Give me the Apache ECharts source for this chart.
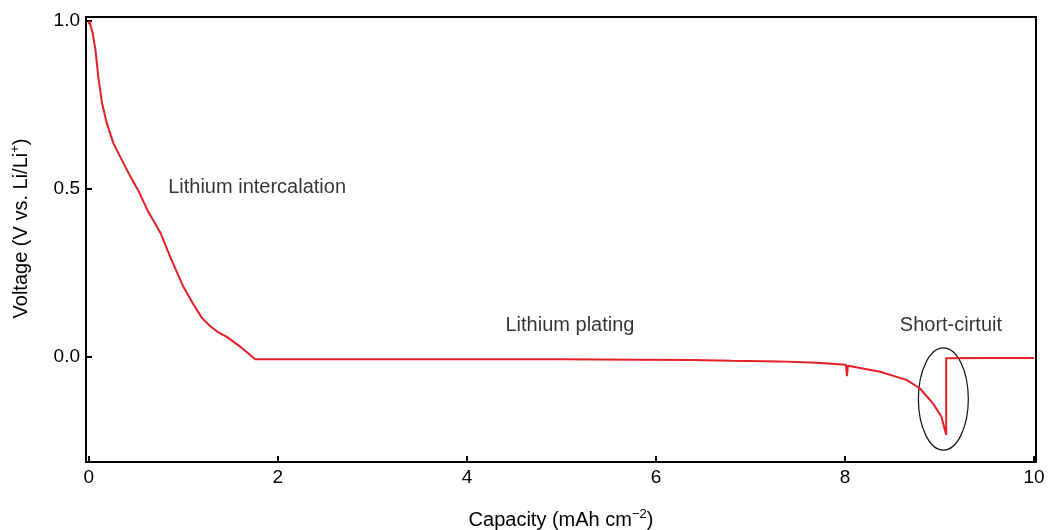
<!DOCTYPE html>
<html>
<head>
<meta charset="utf-8">
<script src="https://cdn.jsdelivr.net/npm/echarts@6/dist/echarts.min.js"></script>
<style>
  html, body { margin: 0; padding: 0; background: #fff; }
  #main { width: 1048px; height: 530px; }
</style>
</head>
<body>
<div id="main"></div>
<script>
// capacity (mAh cm-2) / voltage (V)
const capacity = [0.0, 0.005, 0.04, 0.07, 0.10, 0.14, 0.19, 0.26, 0.35, 0.44, 0.53, 0.62, 0.76, 0.86, 1.00, 1.11, 1.20, 1.28, 1.36, 1.46, 1.60, 1.76,
  2.0, 3.0, 4.0, 5.0, 5.8, 6.4, 6.8, 7.3, 7.7, 8.01, 8.02, 8.02, 8.03, 8.37, 8.65, 8.79, 8.93, 9.02, 9.07, 9.07, 9.5, 10.0];
const voltage = [0.99, 1.0, 0.965, 0.914, 0.834, 0.755, 0.696, 0.636, 0.586, 0.537, 0.492, 0.437, 0.368, 0.299, 0.209, 0.155, 0.115, 0.093, 0.075, 0.060, 0.031, -0.007,
  -0.007, -0.007, -0.007, -0.007, -0.008, -0.009, -0.011, -0.013, -0.017, -0.023, -0.024, -0.057, -0.026, -0.044, -0.068, -0.093, -0.138, -0.178, -0.232, -0.004, -0.003, -0.003];

const xTicks = [0, 2, 4, 6, 8, 10];
const yTicks = [0.0, 0.5, 1.0];

// labels: [x, y, text]
const notas = [
  [1.78, 0.506, 'Lithium intercalation'],
  [5.09, 0.095, 'Lithium plating'],
  [9.12, 0.095, 'Short-cirtuit']
];

// ellipse around the short circuit: [cx, cy, rx (capacity), ry (voltage)]
const elipse = [[9.04, -0.125, 0.264, 0.152]];

const fuente = 'Liberation Sans, Arial, Helvetica, sans-serif';

const chartDom = document.getElementById('main');
const myChart = echarts.init(chartDom);

const option = {
  animation: false,
  backgroundColor: '#fff',
  textStyle: { fontFamily: fuente },
  grid: {
    left: 86, right: 12, top: 17, bottom: 68,
    outerBoundsMode: 'none',
    show: true, borderColor: '#000', borderWidth: 2, backgroundColor: 'transparent'
  },
  xAxis: {
    type: 'value',
    min: -0.03,
    max: 10.02,
    name: '{a|Capacity (mAh cm}{s|−2}{a|)}',
    nameLocation: 'middle',
    nameGap: 46,
    nameTextStyle: {
      rich: {
        a: { fontSize: 20, color: '#000', fontFamily: fuente },
        s: { fontSize: 13, color: '#000', fontFamily: fuente, padding: [0, 0, 12, 0] }
      }
    },
    axisLine: { onZero: false, lineStyle: { color: '#000', width: 2 } },
    axisTick: { inside: true, length: 6, customValues: xTicks, lineStyle: { color: '#000', width: 2 } },
    axisLabel: {
      fontSize: 19, color: '#000', margin: 6,
      customValues: xTicks,
      formatter: v => String(v)
    },
    splitLine: { show: false }
  },
  yAxis: {
    type: 'value',
    min: -0.3125,
    max: 1.012,
    name: '{a|Voltage (V vs. Li/Li}{s|+}{a|)}',
    nameLocation: 'middle',
    nameGap: 52,
    nameRotate: 90,
    nameTextStyle: {
      padding: [0, 0, 0, 22],
      rich: {
        a: { fontSize: 20, color: '#000', fontFamily: fuente },
        s: { fontSize: 13, color: '#000', fontFamily: fuente, padding: [0, 0, 12, 0] }
      }
    },
    axisLine: { onZero: false, lineStyle: { color: '#000', width: 2 } },
    axisTick: { inside: true, length: 6, customValues: yTicks, lineStyle: { color: '#000', width: 2 } },
    axisLabel: {
      fontSize: 19, color: '#000', margin: 6,
      customValues: yTicks,
      formatter: v => v.toFixed(1)
    },
    splitLine: { show: false }
  },
  series: [
    {
      type: 'line',
      data: capacity.map((c, i) => [c, voltage[i]]),
      showSymbol: false,
      lineStyle: { color: '#e41f26', width: 2 },
      z: 3
    },
    {
      type: 'custom',
      data: elipse,
      renderItem: function (params, api) {
        const c = api.coord([api.value(0), api.value(1)]);
        const s = api.size([api.value(2), api.value(3)]);
        return {
          type: 'ellipse',
          shape: { cx: c[0], cy: c[1], rx: s[0], ry: s[1] },
          style: { fill: 'none', stroke: '#111', lineWidth: 1.2 }
        };
      },
      z: 2
    },
    {
      type: 'scatter',
      data: notas.map(n => ({ value: [n[0], n[1]], name: n[2] })),
      symbolSize: 0,
      label: {
        show: true,
        position: 'inside',
        formatter: p => p.name,
        fontSize: 20,
        color: '#000',
        fontFamily: fuente
      }
    }
  ]
};

myChart.setOption(option);
window.addEventListener('resize', () => myChart.resize());
</script>
</body>
</html>
